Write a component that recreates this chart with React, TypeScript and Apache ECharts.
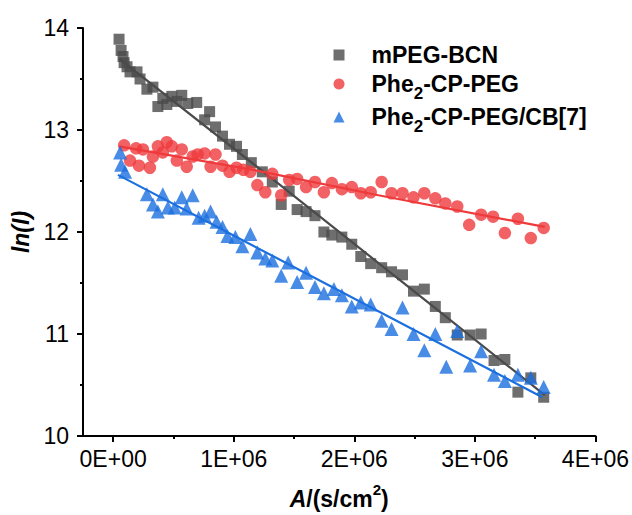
import React, { useEffect, useRef } from "react";
import * as echarts from "echarts";

// x values in units of 1E+06 s/cm^2, y values are ln(I)
const grayX = [0.049,0.066,0.082,0.091,0.115,0.140,0.198,0.223,0.280,0.330,0.371,0.412,0.445,0.487,0.528,0.569,0.619,0.693,0.759,0.800,0.849,0.907,0.965,1.023,1.072,1.146,1.237,1.320,1.394,1.460,1.526,1.600,1.674,1.748,1.814,1.897,1.979,2.054,2.136,2.227,2.309,2.400,2.491,2.581,2.672,2.755,2.854,2.961,3.052,3.159,3.249,3.357,3.464,3.571];
const grayY = [13.89,13.78,13.72,13.66,13.62,13.57,13.57,13.50,13.40,13.42,13.23,13.31,13.25,13.33,13.28,13.34,13.26,13.27,13.10,13.18,13.03,12.94,12.86,12.84,12.76,12.68,12.59,12.49,12.27,12.40,12.22,12.20,12.16,12.00,11.97,11.95,11.88,11.76,11.69,11.65,11.61,11.58,11.42,11.44,11.27,11.16,10.99,10.99,11.00,10.74,10.75,10.43,10.57,10.38];

const redX = [0.091,0.140,0.190,0.214,0.247,0.305,0.330,0.371,0.412,0.445,0.487,0.528,0.569,0.610,0.660,0.701,0.759,0.808,0.849,0.907,0.965,1.023,1.080,1.138,1.196,1.262,1.320,1.394,1.460,1.526,1.600,1.674,1.748,1.814,1.897,1.979,2.054,2.136,2.227,2.309,2.400,2.491,2.581,2.672,2.755,2.854,2.953,3.052,3.151,3.249,3.357,3.464,3.571];
const redY = [12.85,12.70,12.82,12.65,12.81,12.63,12.74,12.84,12.78,12.88,12.84,12.70,12.81,12.64,12.74,12.76,12.77,12.64,12.76,12.65,12.59,12.63,12.61,12.59,12.46,12.39,12.57,12.36,12.51,12.52,12.44,12.49,12.39,12.48,12.42,12.44,12.38,12.39,12.49,12.38,12.38,12.34,12.38,12.33,12.28,12.25,12.07,12.17,12.15,11.99,12.13,11.94,12.04];

const blueX = [0.058,0.066,0.099,0.280,0.330,0.371,0.412,0.454,0.511,0.569,0.610,0.660,0.709,0.759,0.808,0.858,0.907,0.948,1.014,1.072,1.138,1.196,1.262,1.320,1.394,1.452,1.526,1.600,1.674,1.748,1.831,1.897,1.979,2.054,2.136,2.227,2.309,2.400,2.491,2.581,2.672,2.763,2.854,2.961,3.052,3.159,3.249,3.357,3.464,3.571];
const blueY = [12.78,12.66,12.59,12.37,12.27,12.20,12.37,12.24,12.24,12.34,12.23,12.36,12.14,12.16,12.20,12.10,12.05,11.96,11.95,11.86,11.98,11.80,11.74,11.72,11.57,11.70,11.51,11.60,11.46,11.40,11.44,11.38,11.27,11.31,11.29,11.13,11.05,11.26,11.00,10.84,11.00,10.68,11.03,10.69,10.83,10.60,10.54,10.60,10.57,10.48];

// fitted lines
const grayFitX = [0.05, 1.3, 2.75, 3.58];
const grayFitY = [13.70, 12.54, 11.18, 10.40];
const redFitX = [0.05, 1.2, 2.2, 3.58];
const redFitY = [12.84, 12.60, 12.36, 12.05];
const blueFitX = [0.04, 1.8, 3.56];
const blueFitY = [12.56, 11.47, 10.38];

const seriesNames = ["mPEG-BCN", "Phe2-CP-PEG", "Phe2-CP-PEG/CB[7]"];
const xMajorTicks = [0, 1, 2, 3, 4];
const xMinorTicks = [0.5, 1.5, 2.5, 3.5];
const SCALE = 1e6;

const FONT = "'Liberation Sans', Arial, Helvetica, sans-serif";
const GRAY = "#4a4a4a";
const RED = "#ef3a3c";
const BLUE = "#1b6fdf";

const pts = (xs: number[], ys: number[]) => xs.map((x, i) => [x * SCALE, ys[i]]);

export default function App() {
  const ref = useRef<HTMLDivElement>(null);

  useEffect(() => {
    if (!ref.current) return;
    const chart = echarts.init(ref.current, null, { renderer: "svg" });

    const axisLineStyle = { color: "#000", width: 2 };
    const legendRich = {
      sub: {
        fontSize: 17,
        fontWeight: "bold",
        fontFamily: FONT,
        color: "#000",
        verticalAlign: "bottom",
        lineHeight: 20,
      },
    };
    const mkLegend = (name: string, top: number) => ({
      data: [name],
      left: 333.5,
      top,
      orient: "vertical",
      padding: 0,
      itemWidth: 11,
      itemHeight: 11,
      selectedMode: false,
      formatter: (n: string) => n.replace("Phe2", "Phe{sub|2}"),
      textStyle: {
        fontFamily: FONT,
        fontSize: 23,
        fontWeight: "bold",
        color: "#000",
        lineHeight: 36,
        padding: [0, 0, 0, 22],
        rich: legendRich,
      },
    });

    const option: any = {
      animation: false,
      backgroundColor: "#fff",
      grid: { left: 83, right: 34, top: 28, bottom: 77, containLabel: false },
      legend: [mkLegend(seriesNames[0], 37), mkLegend(seriesNames[1], 66), mkLegend(seriesNames[2], 99)],
      xAxis: [
        {
          type: "value",
          min: -0.25 * SCALE,
          max: 4 * SCALE,
          axisLine: { show: true, onZero: false, lineStyle: axisLineStyle },
          axisTick: {
            show: true,
            length: 6,
            lineStyle: axisLineStyle,
            customValues: xMajorTicks.map((v) => v * SCALE),
          },
          axisLabel: {
            customValues: xMajorTicks.map((v) => v * SCALE),
            formatter: (v: number) => (v === 0 ? "0E+00" : `${Math.round(v / SCALE)}E+06`),
            fontFamily: FONT,
            fontSize: 23,
            color: "#000",
            margin: 11,
          },
          splitLine: { show: false },
          name: "{i|A}{b|/(s/cm}{sup|2}{b|)}",
          nameLocation: "middle",
          nameGap: 46,
          nameTextStyle: {
            rich: {
              i: { fontFamily: FONT, fontSize: 23, fontWeight: "bold", fontStyle: "italic", color: "#000", lineHeight: 33 },
              b: { fontFamily: FONT, fontSize: 23, fontWeight: "bold", color: "#000", lineHeight: 33 },
              sup: { fontFamily: FONT, fontSize: 15, fontWeight: "bold", color: "#000", lineHeight: 20, verticalAlign: "top" },
            },
          },
        },
        {
          type: "value",
          position: "bottom",
          min: -0.25 * SCALE,
          max: 4 * SCALE,
          axisLine: { show: false },
          axisTick: {
            show: true,
            length: 3,
            lineStyle: axisLineStyle,
            customValues: xMinorTicks.map((v) => v * SCALE),
          },
          axisLabel: { show: false },
          splitLine: { show: false },
        },
      ],
      yAxis: {
        type: "value",
        min: 10,
        max: 14,
        interval: 1,
        axisLine: { show: true, onZero: false, lineStyle: axisLineStyle },
        axisTick: { show: true, length: 6, lineStyle: axisLineStyle },
        minorTick: { show: true, splitNumber: 2, length: 3, lineStyle: axisLineStyle },
        splitLine: { show: false },
        minorSplitLine: { show: false },
        axisLabel: { fontFamily: FONT, fontSize: 23, color: "#000", margin: 14 },
        name: "ln(I)",
        nameLocation: "middle",
        nameGap: 41,
        nameTextStyle: { fontFamily: FONT, fontSize: 23, fontWeight: "bold", fontStyle: "italic", color: "#000" },
      },
      series: [
        {
          name: seriesNames[0],
          type: "scatter",
          symbol: "rect",
          symbolSize: 11,
          itemStyle: { color: GRAY },
          data: pts(grayX, grayY),
          z: 2,
        },
        {
          name: "fit-gray",
          type: "line",
          symbol: "none",
          lineStyle: { color: GRAY, width: 2.2 },
          data: pts(grayFitX, grayFitY),
          z: 3,
        },
        {
          name: seriesNames[1],
          type: "scatter",
          symbol: "circle",
          symbolSize: 12.5,
          itemStyle: { color: RED },
          data: pts(redX, redY),
          z: 4,
        },
        {
          name: "fit-red",
          type: "line",
          symbol: "none",
          lineStyle: { color: RED, width: 2.2 },
          data: pts(redFitX, redFitY),
          z: 5,
        },
        {
          name: seriesNames[2],
          type: "scatter",
          symbol: "triangle",
          symbolSize: 14,
          itemStyle: { color: BLUE },
          data: pts(blueX, blueY),
          z: 6,
        },
        {
          name: "fit-blue",
          type: "line",
          symbol: "none",
          lineStyle: { color: BLUE, width: 2.2 },
          data: pts(blueFitX, blueFitY),
          z: 7,
        },
      ],
    };

    chart.setOption(option);
    return () => chart.dispose();
  }, []);

  return (
    <div
      ref={ref}
      style={{ position: "fixed", left: 0, top: 0, width: 632, height: 515, background: "#fff" }}
    />
  );
}
